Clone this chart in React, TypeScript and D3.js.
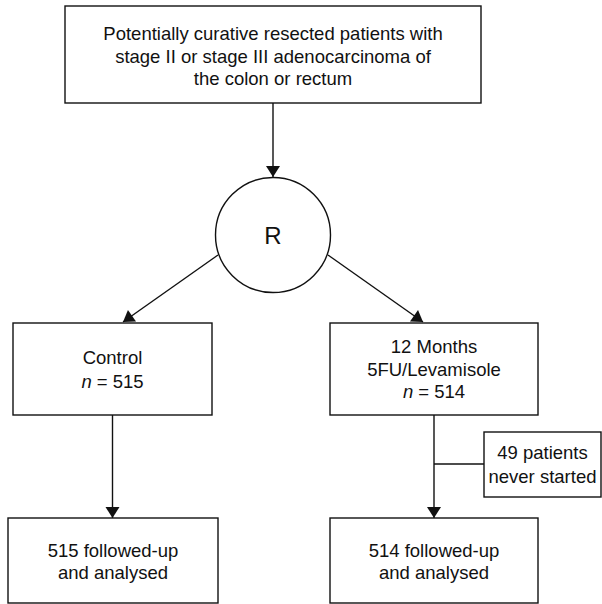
import { useRef, useEffect } from "react";
import { select, line } from "d3";

// text of each box
const topLines = [
  "Potentially curative resected patients with",
  "stage II or stage III adenocarcinoma of",
  "the colon or rectum",
];
const randLabel = "R";
const controlLines = ["Control", "n = 515"];
const treatLines = ["12 Months", "5FU/Levamisole", "n = 514"];
const sideLines = ["49 patients", "never started"];
const controlEndLines = ["515 followed-up", "and analysed"];
const treatEndLines = ["514 followed-up", "and analysed"];

const W = 602;
const H = 604;
const FONT = "'Liberation Sans', Arial, sans-serif";
const INK = "#111";

const App = () => {
  const svgRef = useRef(null);

  useEffect(() => {
    const svg = select(svgRef.current);
    svg.selectAll("*").remove();

    const g = svg.append("g");

    // boxes: x, y, w, h, line height, extra vertical shift
    const boxes = [
      { x: 65, y: 6, w: 416, h: 97, lines: topLines, lh: 22.5, dy: 1.5 },
      { x: 13, y: 323, w: 199, h: 92, lines: controlLines, lh: 24, dy: 0 },
      { x: 330, y: 323, w: 208, h: 92, lines: treatLines, lh: 22.5, dy: 0 },
      { x: 484, y: 432, w: 117, h: 65, lines: sideLines, lh: 24, dy: 0 },
      { x: 8, y: 518, w: 210, h: 85, lines: controlEndLines, lh: 22, dy: 1 },
      { x: 330, y: 518, w: 208, h: 85, lines: treatEndLines, lh: 22, dy: 1 },
    ];

    const circle = { cx: 273, cy: 235, r: 57.5 };

    const path = line();

    // connector lines
    const segs = [
      [[273, 103], [273, 177]],
      [[218, 255], [123, 322]],
      [[328, 255], [423, 322]],
      [[112.5, 415], [112.5, 518]],
      [[434, 415], [434, 518]],
      [[434, 464], [484, 464]],
    ];

    g.selectAll("path.conn")
      .data(segs)
      .join("path")
      .attr("class", "conn")
      .attr("d", (d) => path(d))
      .attr("stroke", INK)
      .attr("stroke-width", 1.4)
      .attr("fill", "none");

    // arrow heads at segment ends (first five)
    const heads = segs.slice(0, 5).map((s) => {
      const [x0, y0] = s[0];
      const [x1, y1] = s[1];
      const ang = Math.atan2(y1 - y0, x1 - x0);
      return { x: x1, y: y1, ang };
    });

    g.selectAll("path.head")
      .data(heads)
      .join("path")
      .attr("class", "head")
      .attr("d", "M0,0L-11,-7L-11,7Z")
      .attr(
        "transform",
        (d) => `translate(${d.x},${d.y}) rotate(${(d.ang * 180) / Math.PI})`
      )
      .attr("fill", INK);

    g.append("circle")
      .attr("cx", circle.cx)
      .attr("cy", circle.cy)
      .attr("r", circle.r)
      .attr("fill", "white")
      .attr("stroke", INK)
      .attr("stroke-width", 1.4);

    g.append("text")
      .attr("x", circle.cx)
      .attr("y", circle.cy + 8.6)
      .attr("text-anchor", "middle")
      .style("font-family", FONT)
      .style("font-size", "24px")
      .attr("fill", INK)
      .text(randLabel);

    const boxG = g
      .selectAll("g.box")
      .data(boxes)
      .join("g")
      .attr("class", "box");

    boxG
      .append("rect")
      .attr("x", (d) => d.x)
      .attr("y", (d) => d.y)
      .attr("width", (d) => d.w)
      .attr("height", (d) => d.h)
      .attr("fill", "white")
      .attr("stroke", INK)
      .attr("stroke-width", 1.4);

    boxG.each(function (d) {
      const n = d.lines.length;
      const cx = d.x + d.w / 2;
      const mid = d.y + d.h / 2;
      d.lines.forEach((txt, i) => {
        const y = mid + (i - (n - 1) / 2) * d.lh + 6.6 + d.dy;
        const t = select(this)
          .append("text")
          .attr("x", cx)
          .attr("y", y)
          .attr("text-anchor", "middle")
          .style("font-family", FONT)
          .style("font-size", "18.5px")
          .attr("fill", INK);
        if (txt.startsWith("n = ")) {
          t.append("tspan").style("font-style", "italic").text("n");
          t.append("tspan").text(txt.slice(1));
        } else {
          t.text(txt);
        }
      });
    });
  }, []);

  return (
    <svg
      ref={svgRef}
      width={W}
      height={H}
      style={{ position: "absolute", left: 0, top: 0, background: "white" }}
    ></svg>
  );
};

export default App;
